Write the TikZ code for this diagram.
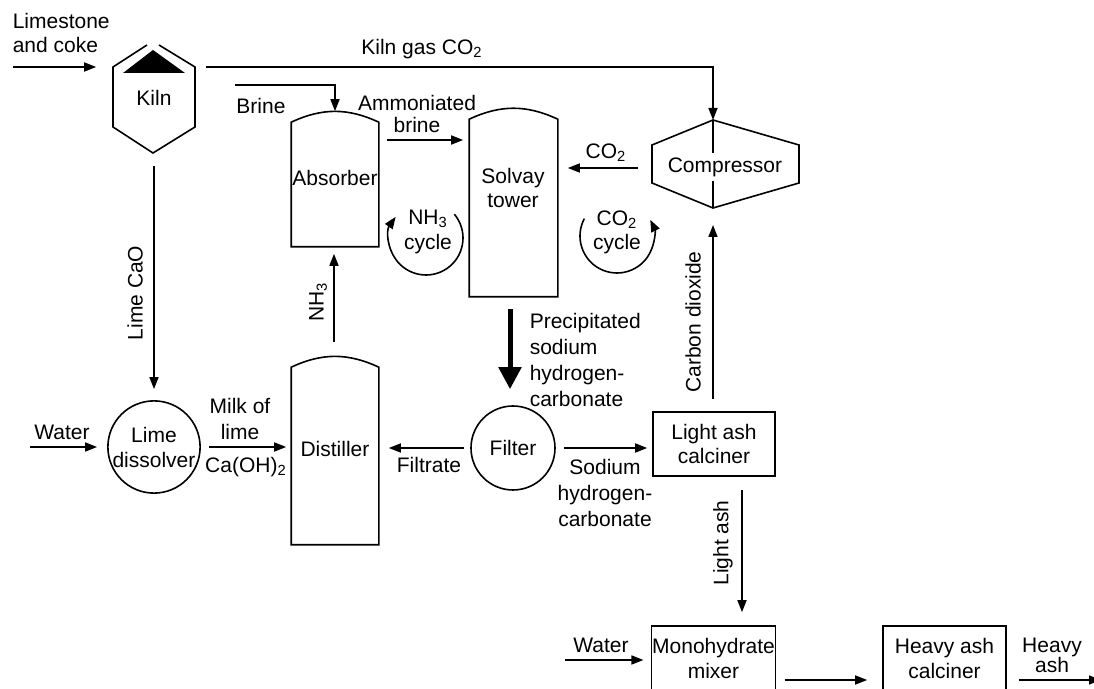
\documentclass[tikz,border=0pt]{standalone}
\usepackage{fontspec}
\setmainfont{Liberation Sans}
\usetikzlibrary{arrows.meta,positioning,calc}

\begin{document}
\begin{tikzpicture}[
    x=0.5pt, y=-0.5pt,
    line width=0.8pt,
    font=\fontsize{10.5}{13}\selectfont,
    flow/.style={-{Triangle[length=6pt,width=4.5pt]}},
    heavyflow/.style={line width=2.5pt, -{Triangle[length=11pt,width=11pt]}},
    vessel/.style={minimum width=43pt, inner sep=0pt},
    tank/.style={draw, circle, inner sep=0pt, align=center},
    unitbox/.style={draw, minimum width=61pt, minimum height=32pt, align=center, inner sep=0pt},
    openbox/.style={minimum width=60.5pt, minimum height=31pt, align=center, inner sep=0pt},
    lbl/.style={align=center, inner sep=0pt}
]
    \clip (0,0) rectangle (1094,689);

    % kiln and compressor
    \node[lbl, minimum width=41pt, minimum height=55.5pt] (kiln) at (154,97.5) {Kiln};
    \draw (147,45) -- (113,67) -- (113,127) -- (153,153) -- (195,127) -- (195,67) -- (159,45);
    \fill (123,73) -- (185,73) -- (153,50) -- cycle;
    \coordinate (comptop) at (713,120); \coordinate (compbot) at (713,208); \coordinate (compW) at (652,168);
    \draw (comptop) -- (799,145) -- (799,183) -- (compbot) -- (652,183) -- (652,145) -- cycle;
    \draw (comptop) -- (713,153);
    \draw (713,181) -- (compbot);
    \node[lbl] (compressor) at (725,167) {Compressor};

    % vessels
    \node[vessel, minimum height=61.5pt] (absorber) at (335,184.5) {};
    \node[vessel, minimum width=43.5pt, minimum height=88pt] (solvay) at (513.5,208) {};
    \node[vessel, minimum height=88pt] (distiller) at (335,456) {};
    \foreach \v in {absorber, solvay, distiller}
        \draw (\v.south west) -- (\v.north west) to[bend left=25] (\v.north east) -- (\v.south east) -- cycle;
    \node[lbl] (absorberlbl) at (335,178) {Absorber};
    \node[lbl] (solvaylbl) at (513,188) {Solvay\\[-1pt]tower};
    \node[lbl] (distillerlbl) at (335,449) {Distiller};

    \node[tank, minimum size=44pt] (dissolver) at (154,447) {Lime\\[-0.5pt]dissolver};
    \node[tank, minimum size=42pt] (filter) at (513,448) {Filter};
    \node[unitbox] (lightash) at (714,444) {Light ash\\[-1pt]calciner};
    \node[openbox] (mixer) at (713.5,658) {Monohydrate\\[-0.5pt]mixer};
    \node[openbox] (heavy) at (944.5,658) {Heavy ash\\[-0.5pt]calciner};
    \foreach \b in {mixer, heavy}
        \draw (\b.south west) |- (\b.north east) -- (\b.south east);

    % flows
    \coordinate (limein) at (13,67);
    \coordinate (brinein) at (235,85);
    \coordinate (waterin) at (30,447);
    \coordinate (water2in) at (565,660);
    \coordinate (heavyout) at (1101,680);
    \draw[flow, shorten >=8pt] (limein) -- (kiln.west |- limein);
    \draw[flow, shorten <=5pt] (kiln.east |- limein) -| (comptop);
    \draw[flow] (brinein) -| ($(absorber.north)+(0,-11)$);
    \draw[flow, shorten <=4pt, shorten >=3pt] (absorber.east |- 0,140) -- (solvay.west |- 0,140);
    \draw[flow, shorten <=7pt, shorten >=5pt] (compW) -- (solvay.east |- compW);
    \draw[flow, shorten <=6pt, shorten >=8.5pt] (lightash.north -| compbot) -- (compbot);
    \draw[flow, shorten <=8pt, shorten >=3.5pt] ($(distiller.north)+(-1,-9)$) -- (absorber.south -| 334,0);
    \draw[flow, shorten <=6pt, shorten >=5.5pt] (kiln.south) -- (dissolver.north);
    \draw[flow, shorten >=5pt] (waterin) -- (dissolver.west);
    \draw[flow, shorten <=4pt, shorten >=2.5pt] (dissolver.east) -- (distiller.west |- dissolver.east);
    \draw[flow, shorten <=3pt, shorten >=5pt] (filter.west) -- (distiller.east |- filter.west);
    \draw[heavyflow, shorten <=6pt, shorten >=8pt] (solvay.south -| 510,0) -- (filter.north -| 510,0);
    \draw[flow, shorten <=4pt, shorten >=2.5pt] (filter.east) -- (lightash.west |- filter.east);
    \draw[flow, shorten <=6.5pt, shorten >=7pt] (lightash.south -| 742,0) -- (mixer.north -| 742,0);
    \draw[flow, shorten >=4pt] (water2in) -- (mixer.west |- water2in);
    \draw[flow, shorten <=4.5pt, shorten >=8pt] (mixer.east |- 0,680) -- (heavy.west |- 0,680);
    \draw[flow, shorten <=6.5pt] (heavy.east |- 0,680) -- (heavyout);

    % cycles
    \coordinate (nh3c) at (426,238);
    \coordinate (co2c) at (617,236);
    \draw[flow] (nh3c) ++(-40:37) arc[start angle=-40, end angle=215, radius=37];
    \draw[flow] (co2c) ++(208:37) arc[start angle=208, end angle=-26, radius=37];
    \node[lbl] (nh3cycle) at (428,232) {NH\textsubscript{3}\\[-0.5pt]cycle};
    \node[lbl] (co2cycle) at (617,232) {CO\textsubscript{2}\\[-1pt]cycle};

    % labels
    \node[lbl, align=left, anchor=west] (limestone) at (12,33) {Limestone\\[-0.5pt]and coke};
    \node[lbl] (kilngas) at (422,49) {Kiln gas CO\textsubscript{2}};
    \node[lbl] (brine) at (261,106) {Brine};
    \node[lbl] (ammbrine) at (417,114) {Ammoniated\\[-2pt]brine};
    \node[lbl] (co2in) at (606,153) {CO\textsubscript{2}};
    \node[lbl, rotate=90] (carbondiox) at (693,322) {Carbon dioxide};
    \node[lbl, rotate=90] (nh3) at (318,302) {NH\textsubscript{3}};
    \node[lbl, rotate=90] (limecao) at (135,293) {Lime CaO};
    \node[lbl] (water) at (62,432) {Water};
    \node[lbl] (milk) at (240,419) {Milk of\\lime};
    \node[lbl] (caoh) at (246,467) {Ca(OH)\textsubscript{2}};
    \node[lbl] (filtrate) at (429,465) {Filtrate};
    \node[lbl, align=left, anchor=west] (precip) at (529,360) {Precipitated\\sodium\\hydrogen-\\carbonate};
    \node[lbl] (sodium) at (605,493) {Sodium\\hydrogen-\\carbonate};
    \node[lbl, rotate=90] (lightashlbl) at (723,543) {Light ash};
    \node[lbl] (water2) at (601,645) {Water};
    \node[lbl] (heavyash) at (1052,655) {Heavy\\[-3pt]ash};
\end{tikzpicture}
\end{document}
